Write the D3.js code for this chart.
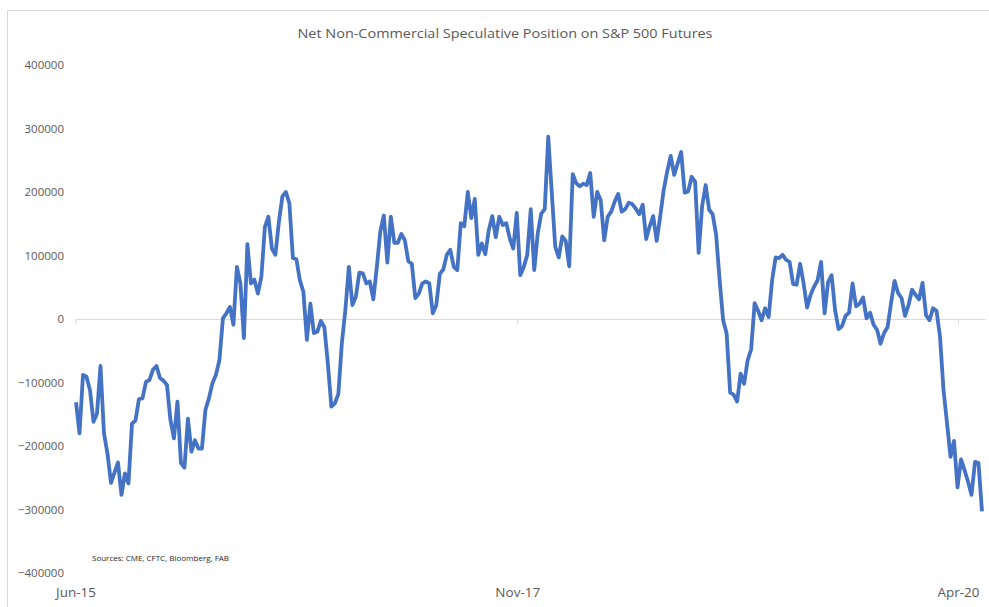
<!DOCTYPE html>
<meta charset="utf-8">
<style>
    body { margin: 0; background: #fff; }
    text { font-family: "Open Sans", "Noto Sans", sans-serif; fill: #595959; }
    .axis text { font-family: "Open Sans", "Noto Sans", sans-serif; fill: #595959; }
</style>
<body>
<script src="https://cdn.jsdelivr.net/npm/d3@7"></script>
<script>
// weekly net non-commercial position, first report 2 Jun 2015
var firstWeek = "2015-06-02";
var netPos = [
  -131000, -180000, -88000, -91000, -112000, -162000, -149000, -74000, -180000, -212000,
  -258000, -242000, -226000, -277000, -243000, -259000, -165000, -160000, -126000, -125000,
  -99000, -96000, -80000, -74000, -93000, -97000, -104000, -159000, -188000, -130000,
  -227000, -234000, -157000, -209000, -191000, -204000, -204000, -143000, -125000, -101000,
  -88000, -65000, 1000, 9000, 19000, -9000, 82000, 56000, -30000, 118000,
  56000, 62000, 40000, 67000, 145000, 161000, 111000, 101000, 153000, 193000,
  200000, 182000, 96000, 94000, 61000, 43000, -33000, 24000, -22000, -20000,
  -3000, -13000, -70000, -138000, -133000, -118000, -38000, 14000, 82000, 22000,
  35000, 73000, 72000, 56000, 59000, 31000, 82000, 138000, 163000, 89000,
  161000, 120000, 120000, 134000, 124000, 91000, 87000, 33000, 40000, 56000,
  59000, 56000, 9000, 22000, 71000, 78000, 101000, 109000, 82000, 77000,
  151000, 146000, 200000, 159000, 189000, 101000, 119000, 102000, 140000, 162000,
  129000, 161000, 148000, 151000, 127000, 111000, 167000, 69000, 82000, 101000,
  173000, 77000, 135000, 166000, 173000, 287000, 200000, 114000, 97000, 130000,
  123000, 83000, 228000, 214000, 209000, 213000, 211000, 230000, 161000, 200000,
  187000, 124000, 161000, 169000, 185000, 197000, 169000, 173000, 183000, 181000,
  174000, 165000, 180000, 126000, 146000, 162000, 123000, 161000, 203000, 232000,
  257000, 227000, 245000, 263000, 199000, 201000, 224000, 216000, 104000, 178000,
  211000, 172000, 165000, 132000, 61000, -2000, -23000, -116000, -119000, -130000,
  -86000, -102000, -65000, -48000, 25000, 13000, -2000, 17000, 3000, 61000,
  97000, 96000, 101000, 93000, 90000, 55000, 54000, 87000, 56000, 18000,
  38000, 51000, 61000, 90000, 9000, 58000, 69000, 14000, -16000, -11000,
  5000, 10000, 56000, 20000, 24000, 34000, 1000, 10000, -9000, -17000,
  -39000, -22000, -13000, 25000, 60000, 41000, 33000, 5000, 22000, 46000,
  38000, 31000, 57000, 6000, -2000, 17000, 13000, -28000, -112000, -164000,
  -217000, -192000, -265000, -221000, -238000, -256000, -277000, -225000, -227000, -303000
];
var tickDates = ["2015-06-01", "2017-11-01", "2020-04-01"];
var yTicks = [400000, 300000, 200000, 100000, 0, -100000, -200000, -300000, -400000];
var title = "Net Non-Commercial Speculative Position on S&P 500 Futures";
var source = "Sources: CME, CFTC, Bloomberg, FAB";

var W = 989, H = 607;
var parse = d3.utcParse("%Y-%m-%d");
var start = parse(firstWeek);
var data = netPos.map(function(v, i) {
    return { date: d3.utcDay.offset(start, i * 7), value: v };
});

var svg = d3.select("body").append("svg")
    .attr("width", W)
    .attr("height", H);

// chart frame
svg.append("rect")
    .attr("x", 7.5).attr("y", 10.5)
    .attr("width", W + 10).attr("height", H + 10)
    .attr("fill", "none")
    .attr("stroke", "#d9d9d9");

var x = d3.scaleUtc()
    .domain(d3.extent(data, function(d) { return d.date; }))
    .range([76, 982]);
var y = d3.scaleLinear().domain([-400000, 400000]).range([573, 65]);

svg.append("text")
    .attr("x", 505).attr("y", 34)
    .attr("text-anchor", "middle")
    .attr("dominant-baseline", "middle")
    .attr("font-size", 13.5)
    .attr("textLength", 415)
    .attr("lengthAdjust", "spacingAndGlyphs")
    .text(title);

// y axis labels
var yAxis = svg.append("g")
    .attr("class", "axis")
    .attr("transform", "translate(64,0)")
    .call(d3.axisLeft(y).tickValues(yTicks).tickSize(0).tickPadding(0).tickFormat(d3.format("d")));
yAxis.select(".domain").remove();
yAxis.selectAll("text").attr("font-size", 11.5);

// zero line with tick marks
var ticks = tickDates.map(parse);
var zero = svg.append("g")
    .attr("transform", "translate(0," + y(0) + ")")
    .call(d3.axisBottom(x).tickValues(ticks).tickSize(5).tickFormat(""));
zero.select(".domain").attr("stroke", "#d9d9d9").attr("d", "M76,0.5H985");
zero.selectAll(".tick line").attr("stroke", "#d9d9d9");

// date labels at the bottom
var xAxis = svg.append("g")
    .attr("class", "axis")
    .attr("transform", "translate(0,584)")
    .call(d3.axisBottom(x).tickValues(ticks).tickSize(0).tickFormat(d3.utcFormat("%b-%y")));
xAxis.select(".domain").remove();
xAxis.selectAll("text").attr("font-size", 13.5);

svg.append("path")
    .datum(data)
    .attr("fill", "none")
    .attr("stroke", "#4472c4")
    .attr("stroke-width", 3.8)
    .attr("stroke-linejoin", "round")
    .attr("d", d3.line()
        .x(function(d) { return x(d.date); })
        .y(function(d) { return y(d.value); }));

svg.append("text")
    .attr("x", 92).attr("y", 559)
    .attr("dominant-baseline", "middle")
    .attr("font-size", 8)
    .style("fill", "#262626")
    .text(source);
</script>
</body>
